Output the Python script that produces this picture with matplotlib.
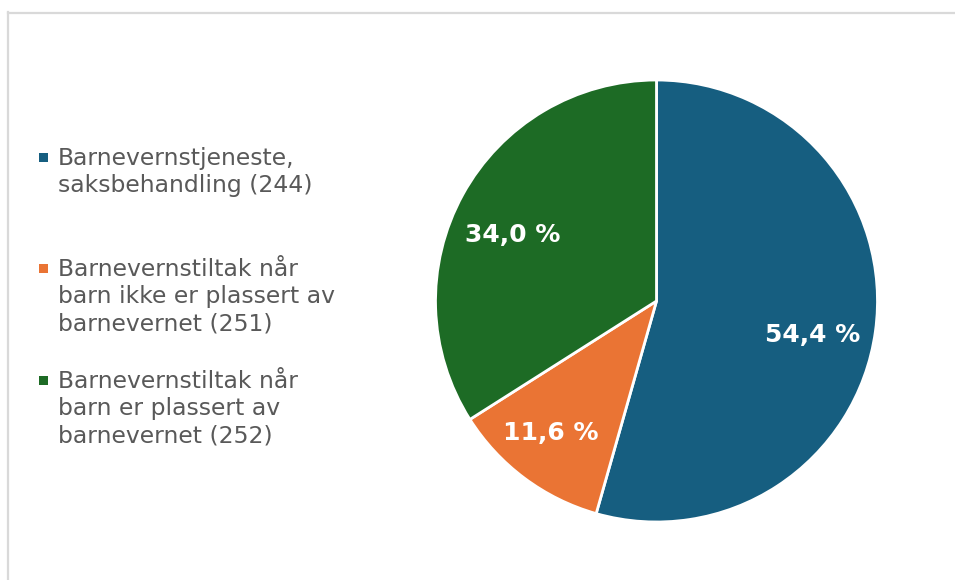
import matplotlib
matplotlib.use("Agg")
import matplotlib.pyplot as plt
from matplotlib.lines import Line2D
from matplotlib.patches import Rectangle

categories = [
    "Barnevernstjeneste,\nsaksbehandling (244)",
    "Barnevernstiltak når\nbarn ikke er plassert av\nbarnevernet (251)",
    "Barnevernstiltak når\nbarn er plassert av\nbarnevernet (252)",
]
values = [54.4, 11.6, 34.0]
pct_labels = ["54,4 %", "11,6 %", "34,0 %"]
colors = ["#165E80", "#EA7434", "#1D6B25"]

W, H = 955, 580
fig = plt.figure(figsize=(W / 100, H / 100), dpi=100)
fig.patch.set_facecolor("white")

# chart border (top and left)
fig.add_artist(Line2D([7.5 / W, 1.0], [1 - 13 / H, 1 - 13 / H], color="#D9D9D9", lw=1.6))
fig.add_artist(Line2D([8 / W, 8 / W], [0, 1 - 12 / H], color="#D9D9D9", lw=1.6))

cx, cy, r = 656.5, 301, 221
ax = fig.add_axes([(cx - r) / W, (H - cy - r) / H, 2 * r / W, 2 * r / H])
wedges, _ = ax.pie(values, colors=colors, startangle=90, counterclock=False,
                   radius=1.0, wedgeprops=dict(edgecolor="white", linewidth=2.0))
ax.set_xlim(-1, 1)
ax.set_ylim(-1, 1)
ax.set_aspect("equal")
ax.axis("off")

label_pos = [(0.706, -0.154), (-0.480, -0.597), (-0.652, 0.299)]
for lab, (x, y) in zip(pct_labels, label_pos):
    ax.text(x, y, lab, ha="center", va="center", color="white",
            fontsize=18, fontweight="bold", family="DejaVu Sans")

# legend
first_baselines = [167, 278, 390]
for lab, col, yb in zip(categories, colors, first_baselines):
    fig.add_artist(Rectangle((39 / W, 1 - (yb - 5) / H), 9 / W, 9 / H,
                             facecolor=col, edgecolor="none", transform=fig.transFigure))
    fig.text(58 / W, 1 - (yb - 20) / H, lab, ha="left", va="top", color="#595959",
             fontsize=16.9, family="DejaVu Sans", linespacing=1.24)

fig.savefig("out.png", dpi=100, facecolor="white")
